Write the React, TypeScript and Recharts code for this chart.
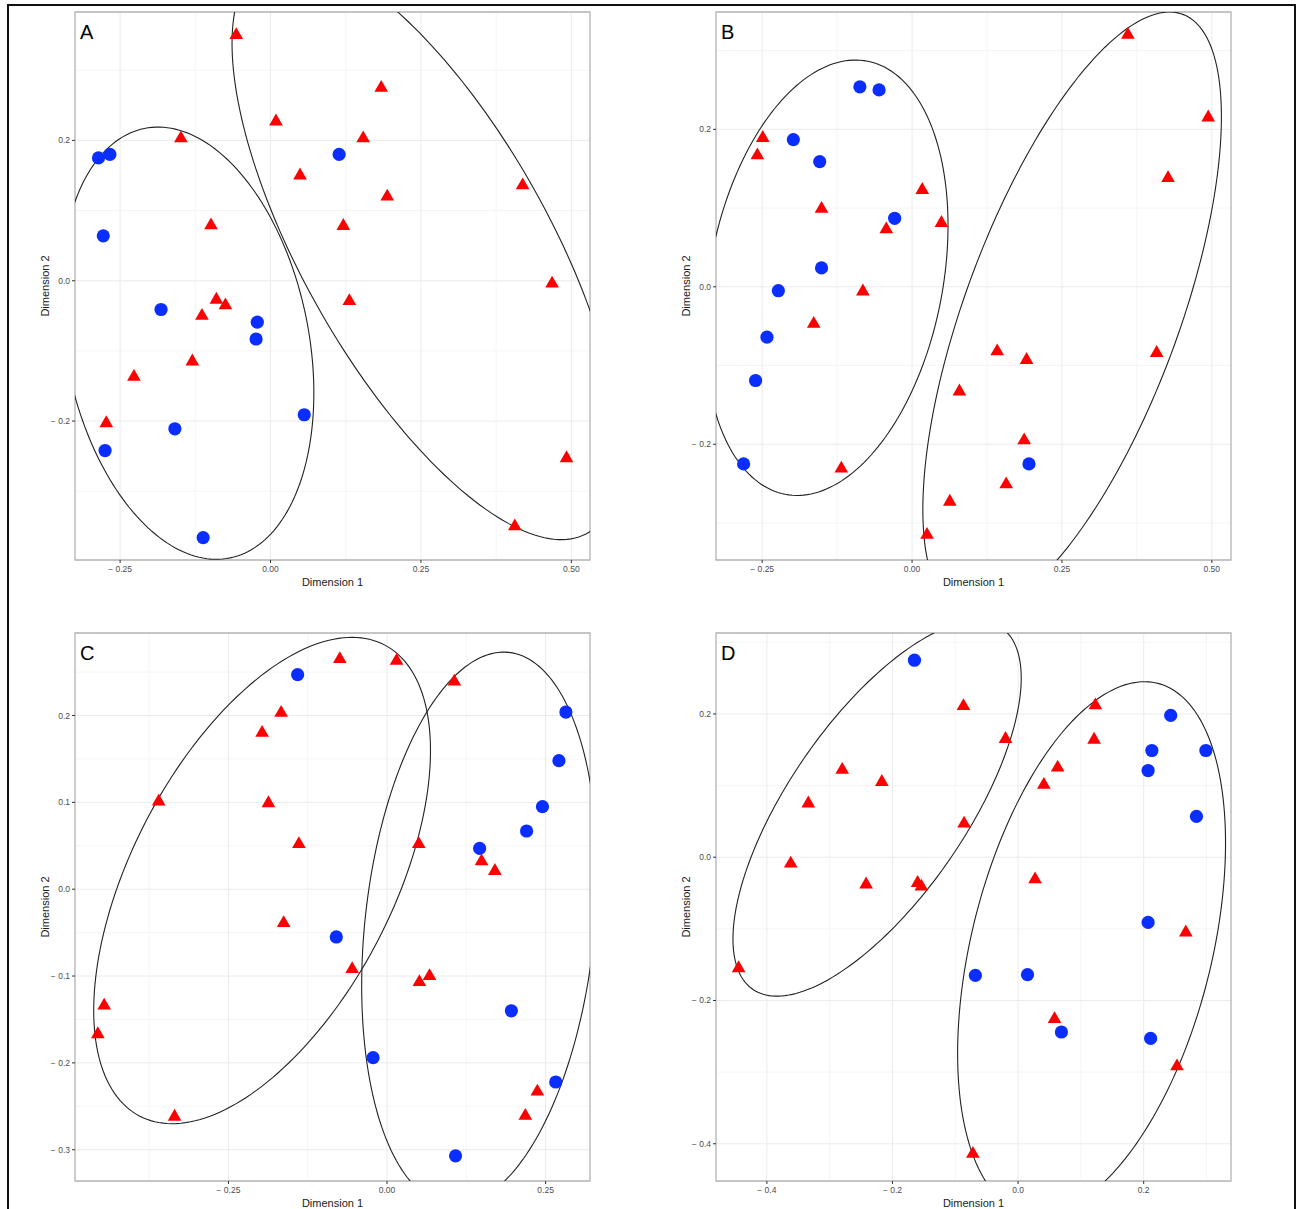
import React from "react";
import { ScatterChart, Scatter, XAxis, YAxis, CartesianGrid, ReferenceArea } from "recharts";

const FONT = '"Liberation Sans", Arial, Helvetica, sans-serif';
const BLUE = "#0a2eff";
const RED = "#ff0000";

type Pt = [number, number];
type Ell = { cx: number; cy: number; rx: number; ry: number; tilt: number };

// ---- panel A ----
const blueA: Pt[] = [
  [-0.286, 0.175], [-0.267, 0.18], [-0.278, 0.064], [-0.182, -0.041], [-0.022, -0.059],
  [-0.024, -0.083], [0.056, -0.191], [-0.159, -0.211], [-0.275, -0.242], [-0.112, -0.366],
  [0.114, 0.18],
];
const redA: Pt[] = [
  [-0.057, 0.35], [0.184, 0.275], [0.009, 0.227], [-0.149, 0.203], [0.154, 0.203],
  [0.049, 0.15], [0.194, 0.12], [0.419, 0.136], [-0.099, 0.079], [0.121, 0.078],
  [0.468, -0.004], [0.131, -0.029], [-0.09, -0.027], [-0.075, -0.035], [-0.114, -0.05],
  [-0.13, -0.115], [-0.227, -0.137], [-0.273, -0.203], [0.492, -0.253], [0.406, -0.35],
];
const ellipsesA: Ell[] = [
  { cx: -0.1385, cy: -0.089, rx: 0.2105, ry: 0.308, tilt: -0.23 },
  { cx: 0.258, cy: 0.047, rx: 0.322, ry: 0.416, tilt: -0.7 },
];

// ---- panel B ----
const blueB: Pt[] = [
  [-0.087, 0.254], [-0.055, 0.25], [-0.198, 0.187], [-0.154, 0.159], [-0.029, 0.087],
  [-0.151, 0.024], [-0.223, -0.005], [-0.242, -0.064], [-0.261, -0.119], [-0.281, -0.225],
  [0.195, -0.225],
];
const redB: Pt[] = [
  [0.36, 0.32], [0.494, 0.215], [-0.249, 0.189], [-0.258, 0.167], [0.427, 0.138],
  [0.017, 0.123], [-0.151, 0.099], [0.049, 0.081], [-0.043, 0.073], [-0.082, -0.006],
  [-0.164, -0.047], [0.142, -0.082], [0.191, -0.093], [0.408, -0.084], [0.079, -0.133],
  [0.187, -0.195], [-0.118, -0.231], [0.157, -0.251], [0.063, -0.273], [0.025, -0.315],
];
const ellipsesB: Ell[] = [
  { cx: -0.143, cy: 0.0115, rx: 0.203, ry: 0.2765, tilt: 0.24 },
  { cx: 0.267, cy: -0.0335, rx: 0.249, ry: 0.3825, tilt: 0.652 },
];

// ---- panel C ----
const blueC: Pt[] = [
  [-0.141, 0.247], [0.282, 0.204], [0.271, 0.148], [0.245, 0.095], [0.22, 0.067],
  [0.146, 0.047], [-0.08, -0.055], [0.196, -0.14], [-0.022, -0.194], [0.266, -0.222],
  [0.108, -0.307],
];
const redC: Pt[] = [
  [-0.0745, 0.265], [0.015, 0.263], [0.106, 0.239], [-0.167, 0.203], [-0.197, 0.18],
  [-0.36, 0.101], [-0.187, 0.099], [-0.139, 0.052], [0.05, 0.052], [0.149, 0.032],
  [0.17, 0.021], [-0.163, -0.039], [-0.055, -0.092], [0.067, -0.1], [0.051, -0.107],
  [-0.446, -0.134], [-0.456, -0.167], [0.237, -0.233], [0.218, -0.261], [-0.335, -0.262],
];
const ellipsesC: Ell[] = [
  { cx: -0.197, cy: 0.01, rx: 0.2655, ry: 0.28, tilt: 0.534 },
  { cx: 0.1458, cy: -0.0455, rx: 0.1858, ry: 0.3185, tilt: 0.2057 },
];

// ---- panel D ----
const blueD: Pt[] = [
  [-0.165, 0.275], [0.243, 0.198], [0.213, 0.149], [0.299, 0.149], [0.207, 0.121],
  [0.284, 0.057], [0.207, -0.091], [-0.068, -0.165], [0.015, -0.164], [0.069, -0.244],
  [0.211, -0.253],
];
const redD: Pt[] = [
  [-0.087, 0.211], [0.123, 0.212], [-0.02, 0.165], [0.121, 0.164], [-0.28, 0.122],
  [0.063, 0.125], [-0.217, 0.105], [0.041, 0.101], [-0.334, 0.075], [-0.086, 0.047],
  [-0.362, -0.009], [-0.242, -0.038], [-0.16, -0.036], [-0.154, -0.041], [0.027, -0.031],
  [0.267, -0.105], [-0.445, -0.155], [0.058, -0.226], [0.253, -0.292], [-0.072, -0.414],
];
const ellipsesD: Ell[] = [
  { cx: -0.2245, cy: 0.068, rx: 0.2295, ry: 0.262, tilt: 0.695 },
  { cx: 0.117, cy: -0.127, rx: 0.2133, ry: 0.372, tilt: 0.395 },
];

// ---- axes ----
const xTicksAB = [-0.25, 0, 0.25, 0.5];
const xLabelsAB = ["\u2212 0.25", "0.00", "0.25", "0.50"];
const xMinorAB = [-0.125, 0.125, 0.375];
const yTicksAB = [-0.2, 0, 0.2];
const yLabelsAB = ["\u2212 0.2", "0.0", "0.2"];
const yMinorAB = [-0.3, -0.1, 0.1, 0.3];

const xTicksC = [-0.25, 0, 0.25];
const xLabelsC = ["\u2212 0.25", "0.00", "0.25"];
const xMinorC = [-0.375, -0.125, 0.125];
const yTicksC = [-0.3, -0.2, -0.1, 0, 0.1, 0.2];
const yLabelsC = ["\u2212 0.3", "\u2212 0.2", "\u2212 0.1", "0.0", "0.1", "0.2"];
const yMinorC = [-0.25, -0.15, -0.05, 0.05, 0.15, 0.25];

const xTicksD = [-0.4, -0.2, 0, 0.2];
const xLabelsD = ["\u2212 0.4", "\u2212 0.2", "0.0", "0.2"];
const xMinorD = [-0.3, -0.1, 0.1, 0.3];
const yTicksD = [-0.4, -0.2, 0, 0.2];
const yLabelsD = ["\u2212 0.4", "\u2212 0.2", "0.0", "0.2"];
const yMinorD = [-0.3, -0.1, 0.1, 0.3];

function outline(e: Ell) {
  const phase = Math.acos(e.tilt);
  const pts = [];
  for (let i = 0; i <= 200; i++) {
    const t = (i / 200) * Math.PI * 2;
    pts.push({ x: e.cx + e.rx * Math.cos(t), y: e.cy + e.ry * Math.cos(t - phase) });
  }
  return pts;
}

const toRows = (pts: Pt[]) => pts.map(([x, y]) => ({ x, y }));

const Dot = (p: any) => <circle cx={p.cx} cy={p.cy} r={6.6} fill={BLUE} />;
const Tri = (p: any) => {
  const r = 7.9;
  const hw = r * 0.866;
  return (
    <path
      d={`M${p.cx},${p.cy - r}L${p.cx + hw},${p.cy + r / 2}L${p.cx - hw},${p.cy + r / 2}Z`}
      fill={RED}
    />
  );
};
const NoShape = () => <g />;

type PanelProps = {
  letter: string;
  left: number;
  top: number;
  blue: Pt[];
  red: Pt[];
  ellipses: Ell[];
  xDomain: [number, number];
  yDomain: [number, number];
  xTicks: number[];
  xLabels: string[];
  xMinor: number[];
  yTicks: number[];
  yLabels: string[];
  yMinor: number[];
};

function Panel(props: PanelProps) {
  const { letter, left, top, blue, red, ellipses, xDomain, yDomain } = props;
  const tickStyle = { fontSize: 8.5, fill: "#4d4d4d", fontFamily: FONT };
  return (
    <div style={{ position: "absolute", left, top, width: 650, height: 600 }}>
      <ScatterChart width={650} height={600} margin={{ top: 12, right: 60, bottom: 10, left: 35 }}>
        <CartesianGrid
          verticalValues={props.xMinor}
          horizontalValues={props.yMinor}
          stroke="#f3f3f3"
          strokeWidth={0.8}
        />
        <CartesianGrid
          verticalValues={props.xTicks}
          horizontalValues={props.yTicks}
          stroke="#ebebeb"
          strokeWidth={1}
        />
        <XAxis
          type="number"
          dataKey="x"
          domain={xDomain}
          allowDataOverflow
          ticks={props.xTicks}
          tickFormatter={(v: number) => props.xLabels[props.xTicks.indexOf(v)] ?? ""}
          tick={tickStyle}
          tickSize={3}
          tickMargin={3}
          tickLine={{ stroke: "#333" }}
          axisLine={false}
          height={30}
          interval={0}
          label={{
            content: ({ viewBox }: any) => (
              <text
                x={viewBox.x + viewBox.width / 2}
                y={viewBox.y + 22}
                textAnchor="middle"
                dominantBaseline="central"
                fontSize={11}
                fill="#1a1a1a"
                fontFamily={FONT}
              >
                Dimension 1
              </text>
            ),
          }}
        />
        <YAxis
          type="number"
          dataKey="y"
          domain={yDomain}
          allowDataOverflow
          ticks={props.yTicks}
          tickFormatter={(v: number) => props.yLabels[props.yTicks.indexOf(v)] ?? ""}
          tick={tickStyle}
          tickSize={3}
          tickMargin={2}
          tickLine={{ stroke: "#333" }}
          axisLine={false}
          width={40}
          interval={0}
          label={{
            content: ({ viewBox }: any) => {
              const x = viewBox.x + viewBox.width - 30;
              const y = viewBox.y + viewBox.height / 2;
              return (
                <text
                  x={x}
                  y={y}
                  transform={`rotate(-90 ${x} ${y})`}
                  textAnchor="middle"
                  dominantBaseline="central"
                  fontSize={11}
                  fill="#1a1a1a"
                  fontFamily={FONT}
                >
                  Dimension 2
                </text>
              );
            },
          }}
        />
        {ellipses.map((e, i) => (
          <Scatter
            key={"e" + i}
            data={outline(e)}
            line={{ stroke: "#222", strokeWidth: 1.1 }}
            lineType="joint"
            shape={NoShape}
            isAnimationActive={false}
          />
        ))}
        <Scatter data={toRows(blue)} shape={Dot} isAnimationActive={false} />
        <Scatter data={toRows(red)} shape={Tri} isAnimationActive={false} />
        <ReferenceArea
          x1={xDomain[0]}
          x2={xDomain[1]}
          y1={yDomain[0]}
          y2={yDomain[1]}
          fill="none"
          stroke="#b3b3b3"
          strokeWidth={1.3}
          ifOverflow="visible"
        />
      </ScatterChart>
      <div
        style={{
          position: "absolute",
          left: 80,
          top: 22,
          fontSize: 20,
          lineHeight: 1,
          fontFamily: FONT,
          color: "#000",
        }}
      >
        {letter}
      </div>
    </div>
  );
}

export default function App() {
  return (
    <div
      style={{
        position: "absolute",
        left: 0,
        top: 0,
        width: 1297,
        height: 1209,
        overflow: "hidden",
        background: "#fff",
      }}
    >
      <div
        style={{
          position: "absolute",
          left: 7,
          top: 4,
          width: 1285,
          height: 1240,
          border: "2px solid #111",
        }}
      />
      <Panel
        letter="A" left={0} top={0}
        blue={blueA} red={redA} ellipses={ellipsesA}
        xDomain={[-0.325, 0.531]} yDomain={[-0.398, 0.383]}
        xTicks={xTicksAB} xLabels={xLabelsAB} xMinor={xMinorAB}
        yTicks={yTicksAB} yLabels={yLabelsAB} yMinor={yMinorAB}
      />
      <Panel
        letter="B" left={641} top={0}
        blue={blueB} red={redB} ellipses={ellipsesB}
        xDomain={[-0.327, 0.532]} yDomain={[-0.347, 0.349]}
        xTicks={xTicksAB} xLabels={xLabelsAB} xMinor={xMinorAB}
        yTicks={yTicksAB} yLabels={yLabelsAB} yMinor={yMinorAB}
      />
      <Panel
        letter="C" left={0} top={621}
        blue={blueC} red={redC} ellipses={ellipsesC}
        xDomain={[-0.492, 0.32]} yDomain={[-0.336, 0.295]}
        xTicks={xTicksC} xLabels={xLabelsC} xMinor={xMinorC}
        yTicks={yTicksC} yLabels={yLabelsC} yMinor={yMinorC}
      />
      <Panel
        letter="D" left={641} top={621}
        blue={blueD} red={redD} ellipses={ellipsesD}
        xDomain={[-0.481, 0.339]} yDomain={[-0.452, 0.313]}
        xTicks={xTicksD} xLabels={xLabelsD} xMinor={xMinorD}
        yTicks={yTicksD} yLabels={yLabelsD} yMinor={yMinorD}
      />
    </div>
  );
}
